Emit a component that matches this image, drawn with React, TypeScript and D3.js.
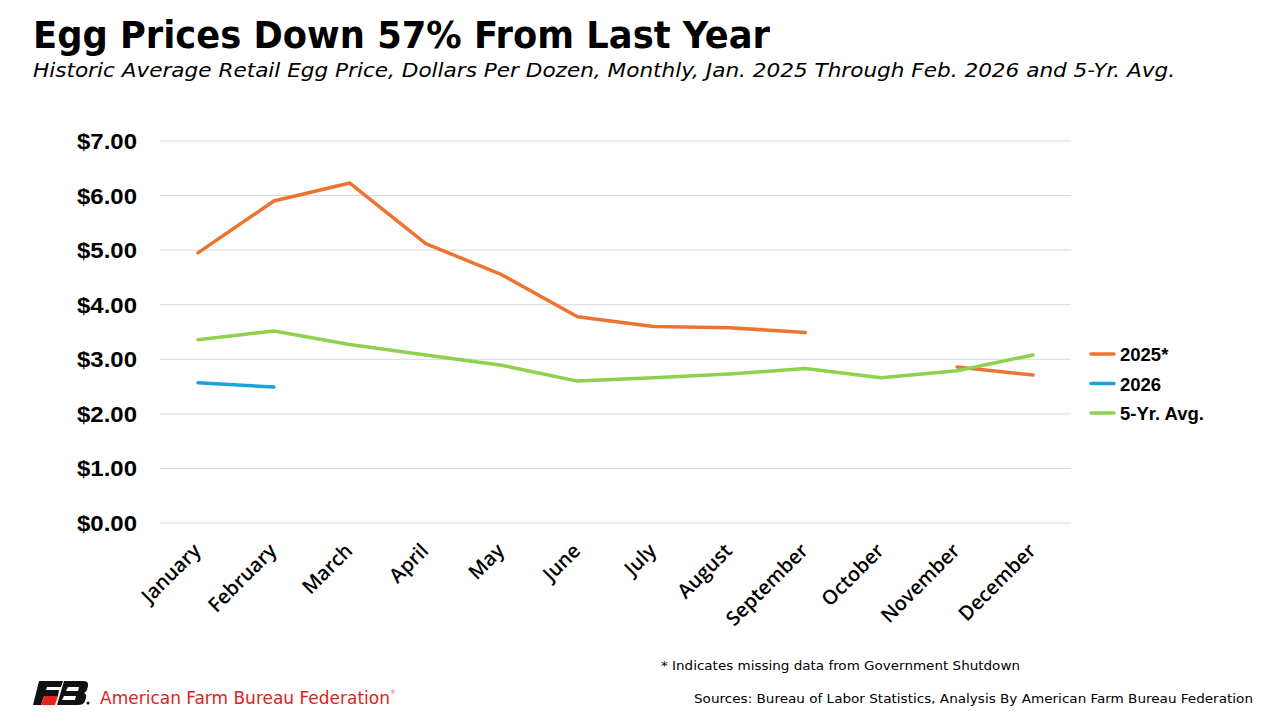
import { useEffect, useRef } from "react";
import * as d3 from "d3";

const MONTHS = ["January","February","March","April","May","June","July","August","September","October","November","December"];
const Y2025: (number|null)[] = [4.95,5.90,6.23,5.12,4.55,3.78,3.60,3.58,3.49,null,2.86,2.71];
const Y2026: (number|null)[] = [2.57,2.49,null,null,null,null,null,null,null,null,null,null];
const AVG5: (number|null)[] = [3.36,3.52,3.27,3.08,2.89,2.60,2.66,2.73,2.83,2.66,2.79,3.08];
const Y_TICKS = [0,1,2,3,4,5,6,7];

const SERIES = [
  { name:"2025*", values:Y2025, color:"#ED7331" },
  { name:"2026", values:Y2026, color:"#1BA1DC" },
  { name:"5-Yr. Avg.", values:AVG5, color:"#8DD14F" },
];

export default function App() {
  const svgRef = useRef<SVGSVGElement>(null);

  useEffect(()=>{
    if(!svgRef.current)return;
    const W=1280,H=720;
    const svg=d3.select(svgRef.current).attr("width",W).attr("height",H);
    svg.selectAll("*").remove();
    svg.append("rect").attr("width",W).attr("height",H).attr("fill","white");

    const L=160,R=1071,T=141,B=523;
    const x=d3.scaleBand().domain(MONTHS).range([L,R]);
    const cx=(m:string)=>x(m)!+x.bandwidth()/2;
    const y=d3.scaleLinear().domain([0,7]).range([B,T]);

    // title
    svg.append("text").attr("x",33).attr("y",48).attr("font-family","'DejaVu Sans Condensed','DejaVu Sans',sans-serif")
      .attr("font-weight","bold").attr("font-size",37).attr("fill","#000").attr("textLength",737).attr("lengthAdjust","spacingAndGlyphs")
      .text("Egg Prices Down 57% From Last Year");
    svg.append("text").attr("x",33).attr("y",77).attr("font-family","'DejaVu Sans Condensed','DejaVu Sans',sans-serif")
      .attr("font-style","italic").attr("font-size",20).attr("fill","#000").attr("textLength",1142).attr("lengthAdjust","spacingAndGlyphs")
      .text("Historic Average Retail Egg Price, Dollars Per Dozen, Monthly, Jan. 2025 Through Feb. 2026 and 5-Yr. Avg.");

    // grid + y labels
    Y_TICKS.forEach(t=>{
      svg.append("line").attr("x1",L).attr("x2",R).attr("y1",y(t)).attr("y2",y(t)).attr("stroke","#D9D9D9").attr("stroke-width",1);
      svg.append("text").attr("x",137).attr("y",y(t)+8).attr("text-anchor","end").attr("font-family","'Liberation Sans',Arial,sans-serif")
        .attr("font-weight","bold").attr("font-size",22).attr("fill","#000").attr("textLength",60).attr("lengthAdjust","spacingAndGlyphs")
        .text(`$${t.toFixed(2)}`);
    });

    // x labels
    MONTHS.forEach(m=>{
      const px=cx(m)+4, py=552;
      svg.append("text").attr("transform",`translate(${px},${py}) rotate(-45)`).attr("text-anchor","end")
        .attr("font-family","'Open Sans',sans-serif").attr("font-weight",600).attr("font-size",20).attr("fill","#000").text(m);
    });

    // lines
    SERIES.forEach(s=>{
      const line=d3.line<number|null>().defined(v=>v!==null).x((_,i)=>cx(MONTHS[i])).y(v=>y(v as number));
      svg.append("path").datum(s.values).attr("d",line as any).attr("fill","none").attr("stroke",s.color)
        .attr("stroke-width",3.5).attr("stroke-linejoin","round").attr("stroke-linecap","round");
    });

    // legend
    SERIES.forEach((s,i)=>{
      const ly=354+i*29.5;
      svg.append("line").attr("x1",1091).attr("x2",1114).attr("y1",ly).attr("y2",ly).attr("stroke",s.color).attr("stroke-width",3.5).attr("stroke-linecap","round");
      svg.append("text").attr("x",1120).attr("y",ly+7).attr("font-family","'Liberation Sans',Arial,sans-serif").attr("font-weight","bold")
        .attr("font-size",18.5).attr("fill","#000").text(s.name);
    });

    // footnotes
    svg.append("text").attr("x",661).attr("y",670).attr("font-family","'DejaVu Sans Condensed','DejaVu Sans',sans-serif").attr("font-size",13)
      .attr("fill","#000").attr("textLength",359).attr("lengthAdjust","spacingAndGlyphs").text("* Indicates missing data from Government Shutdown");
    svg.append("text").attr("x",694).attr("y",703).attr("font-family","'DejaVu Sans Condensed','DejaVu Sans',sans-serif").attr("font-size",13)
      .attr("fill","#000").attr("textLength",559).attr("lengthAdjust","spacingAndGlyphs").text("Sources: Bureau of Labor Statistics, Analysis By American Farm Bureau Federation");

    // logo
    const lg=svg.append("g").attr("transform","translate(33,681)");
    lg.append("path").attr("d","M6,0 L30,0 L28,6 L14,6 L13,9 L26,9 L25,15 L11,15 L8,24 L0,24 Z").attr("fill","#111");
    lg.append("path").attr("d","M11,15 L25,15 L22,24 L8,24 Z").attr("fill","#E0231C");
    lg.append("path").attr("d","M31,0 L50,0 Q56,0 55,5 L54,9 Q53,11 51,12 Q54,13 53,17 L52,20 Q51,24 45,24 L24,24 Z M35,6 L33,10 L45,10 L46,6 Z M31,15 L29,19 L42,19 L43,15 Z").attr("fill","#111").attr("fill-rule","evenodd");
    lg.append("circle").attr("cx",55).attr("cy",22).attr("r",1.5).attr("fill","#111");
    svg.append("text").attr("x",100).attr("y",704).attr("font-family","'DejaVu Sans Condensed','DejaVu Sans',sans-serif").attr("font-size",18)
      .attr("fill","#E0231C").attr("textLength",290).attr("lengthAdjust","spacingAndGlyphs").text("American Farm Bureau Federation");
    svg.append("text").attr("x",391).attr("y",694).attr("font-family","'Liberation Sans',Arial,sans-serif").attr("font-size",5).attr("fill","#E0231C").text("®");
  },[]);

  return (
    <div style={{ position:"absolute", left:0, top:0, width:1280, height:720 }}>
      <svg ref={svgRef} style={{ display:"block" }}/>
    </div>
  );
}
